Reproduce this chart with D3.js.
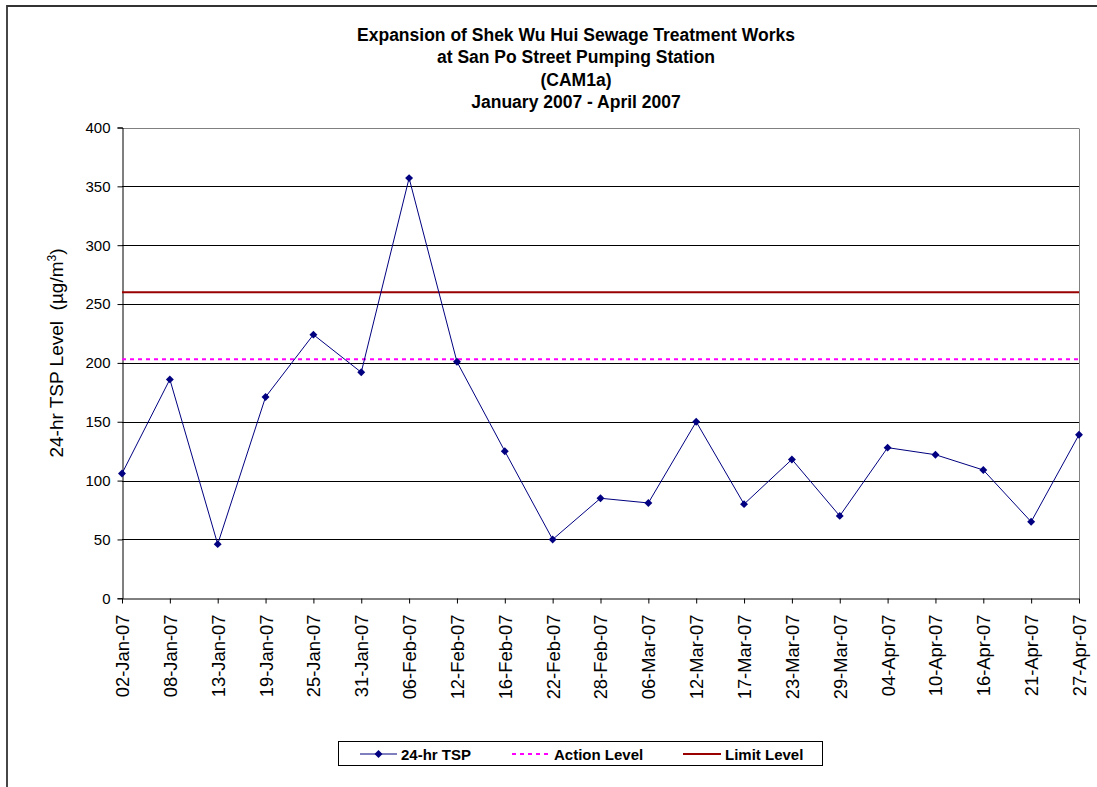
<!DOCTYPE html>
<html><head><meta charset="utf-8">
<script src="https://cdn.jsdelivr.net/npm/d3@7"></script>
<style>body{margin:0;background:#fff}svg{display:block;font-family:Arial,"Liberation Sans",sans-serif}</style>
</head><body>
<svg id="c" width="1097" height="787"></svg>
<script>
const dates = ["02-Jan-07","08-Jan-07","13-Jan-07","19-Jan-07","25-Jan-07","31-Jan-07","06-Feb-07","12-Feb-07","16-Feb-07","22-Feb-07","28-Feb-07","06-Mar-07","12-Mar-07","17-Mar-07","23-Mar-07","29-Mar-07","04-Apr-07","10-Apr-07","16-Apr-07","21-Apr-07","27-Apr-07"];
const tsp = [106,186,46,171,224,192,357,201,125,50,85,81,150,80,118,70,128,122,109,65,139];
const actionLevel = 203;
const limitLevel = 260;
const yTicks = [0,50,100,150,200,250,300,350,400];
const titleLines = ["Expansion of Shek Wu Hui Sewage Treatment Works","at San Po Street Pumping Station","(CAM1a)","January 2007 - April 2007"];

const svg = d3.select("#c");
const L = 122, R = 1079, T = 127.5, B = 598.3;
const x = d3.scalePoint().domain(dates).range([L, R]);
const y = d3.scaleLinear().domain([0, 400]).range([B, T]);

// outer border (top & left)
svg.append("path").attr("d", `M7,787 L7,6 L1097,6`).attr("fill","none").attr("stroke","#333").attr("stroke-width",1.8);

// title
svg.append("g").selectAll("text").data(titleLines).join("text")
  .attr("x", 576).attr("y", (d,i)=>41+i*22.3).attr("text-anchor","middle")
  .attr("font-size",17.5).attr("font-weight","bold").text(d=>d);

// gridlines
svg.append("g").selectAll("line").data(yTicks.filter(v=>v>0)).join("line")
  .attr("x1",L).attr("x2",R).attr("y1",d=>Math.round(y(d))+0.5).attr("y2",d=>Math.round(y(d))+0.5)
  .attr("stroke",d=>d===400?"#808080":"#000").attr("stroke-width",1);
// right border
svg.append("line").attr("x1",R+0.5).attr("x2",R+0.5).attr("y1",Math.round(T)+0.5).attr("y2",B).attr("stroke","#808080");

// y axis
const ya = svg.append("g").attr("transform",`translate(${L+0.5},0)`)
  .call(d3.axisLeft(y).tickValues(yTicks).tickSize(5).tickPadding(7).tickFormat(d3.format("d")));
ya.selectAll("path,line").attr("stroke","#000");
ya.selectAll("text").attr("font-size",15).attr("font-family","Arial, Liberation Sans").attr("fill","#000");

// x axis
const xa = svg.append("g").attr("transform",`translate(0,${Math.round(B)+0.5})`)
  .call(d3.axisBottom(x).tickSize(5).tickSizeOuter(0).tickFormat(d=>d));
xa.selectAll("path,line").attr("stroke","#000");
xa.selectAll("text").attr("font-size",18.4).attr("font-family","Arial, Liberation Sans").attr("fill","#000")
  .attr("text-anchor","end").attr("dy","0.35em").attr("transform","rotate(-90)")
  .attr("x",-16).attr("y",0);

// y label
svg.append("text").attr("transform","translate(63,353) rotate(-90)").attr("text-anchor","middle")
  .attr("font-size",19).html('24-hr TSP Level&#160;&#160;(µg/m<tspan baseline-shift="super" font-size="12">3</tspan>)');

// limit & action lines
svg.append("line").attr("x1",L).attr("x2",R).attr("y1",y(limitLevel)).attr("y2",y(limitLevel))
  .attr("stroke","#990000").attr("stroke-width",2);
svg.append("line").attr("x1",L).attr("x2",R).attr("y1",y(actionLevel)).attr("y2",y(actionLevel))
  .attr("stroke","#ff00ff").attr("stroke-width",2).attr("stroke-dasharray","4,4");

// series
const line = d3.line().x((d,i)=>x(dates[i])).y(d=>y(d));
svg.append("path").datum(tsp).attr("d",line).attr("fill","none").attr("stroke","#000080").attr("stroke-width",1);
const diamond = d3.symbol().type(d3.symbolDiamond2).size(40);
svg.append("g").selectAll("path").data(tsp).join("path")
  .attr("d",diamond).attr("transform",(d,i)=>`translate(${x(dates[i])},${y(d)})`).attr("fill","#000080");

// legend
const lg = svg.append("g");
lg.append("rect").attr("x",338.5).attr("y",741.5).attr("width",484).attr("height",24).attr("fill","#fff").attr("stroke","#000");
const items = [
  {name:"24-hr TSP", x1:360, x2:397, tx:401, stroke:"#000080", w:1, dash:null, marker:true},
  {name:"Action Level", x1:512, x2:550, tx:554, stroke:"#ff00ff", w:2, dash:"4,4", marker:false},
  {name:"Limit Level", x1:683, x2:721, tx:725, stroke:"#990000", w:2, dash:null, marker:false}
];
const li = lg.selectAll("g").data(items).join("g");
li.append("line").attr("x1",d=>d.x1).attr("x2",d=>d.x2).attr("y1",754).attr("y2",754)
  .attr("stroke",d=>d.stroke).attr("stroke-width",d=>d.w).attr("stroke-dasharray",d=>d.dash);
li.filter(d=>d.marker).append("path").attr("d",diamond).attr("transform",d=>`translate(${(d.x1+d.x2)/2},754)`).attr("fill","#000080");
li.append("text").attr("x",d=>d.tx).attr("y",759.5).attr("font-size",15).attr("font-weight","bold").text(d=>d.name);
</script>
</body></html>
